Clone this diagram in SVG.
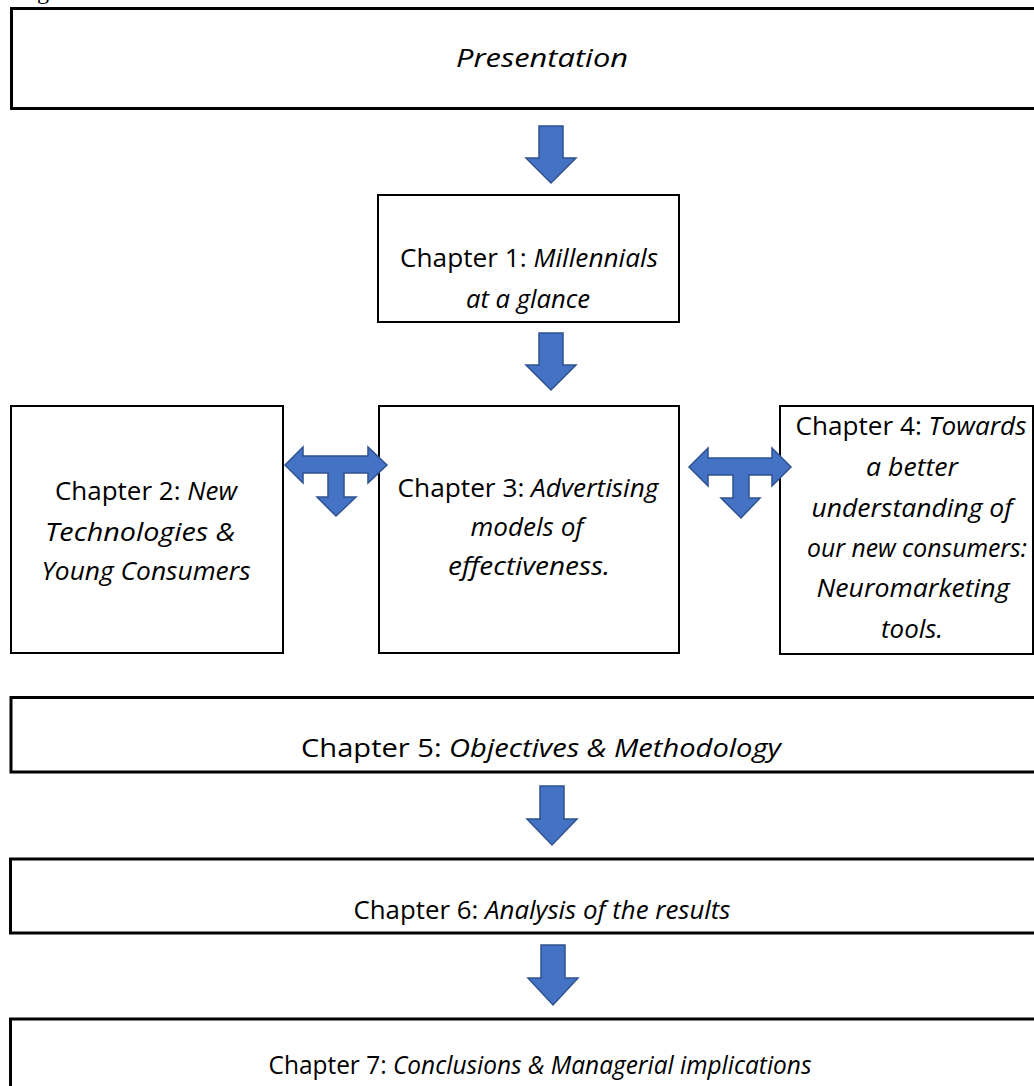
<svg xmlns="http://www.w3.org/2000/svg" width="1034" height="1086" viewBox="0 0 1034 1086">
  <style>
    .wide { fill: #ffffff; stroke: #000000; stroke-width: 3; }
    .box { fill: #ffffff; stroke: #000000; stroke-width: 2; }
    .lbl { font-family: "Open Sans", "Liberation Sans", sans-serif; font-size: 26px; fill: #000000; text-anchor: middle; }
    .it { font-style: italic; }
    .arrow { fill: #4472C4; stroke: #2F528F; stroke-width: 1.5; stroke-linejoin: miter; }
  </style>
  <rect width="1034" height="1086" fill="#ffffff"/>

  <!-- caption fragment above the chart -->
  <text x="37" y="-1" font-family="Liberation Serif, serif" font-size="24">g</text>

  <!-- Presentation -->
  <g id="presentation">
    <rect class="wide" x="11.5" y="8.5" width="1040" height="100"/>
    <text class="lbl it" x="542" y="67" textLength="172" lengthAdjust="spacingAndGlyphs">Presentation</text>
  </g>

  <!-- Chapter 1 -->
  <g id="chapter1">
    <rect class="box" x="378" y="195" width="301" height="127"/>
    <text class="lbl" x="529" y="267" textLength="258" lengthAdjust="spacingAndGlyphs">Chapter 1: <tspan class="it">Millennials</tspan></text>
    <text class="lbl it" x="528" y="308" textLength="124" lengthAdjust="spacingAndGlyphs">at a glance</text>
  </g>

  <!-- Chapter 2 -->
  <g id="chapter2">
    <rect class="box" x="11" y="406" width="272" height="247"/>
    <text class="lbl" x="146" y="500" textLength="182" lengthAdjust="spacingAndGlyphs">Chapter 2: <tspan class="it">New</tspan></text>
    <text class="lbl it" x="140" y="541" textLength="190" lengthAdjust="spacingAndGlyphs">Technologies &amp;</text>
    <text class="lbl it" x="146" y="580" textLength="209" lengthAdjust="spacingAndGlyphs">Young Consumers</text>
  </g>

  <!-- Chapter 3 -->
  <g id="chapter3">
    <rect class="box" x="379" y="406" width="300" height="247"/>
    <text class="lbl" x="528" y="497" textLength="261" lengthAdjust="spacingAndGlyphs">Chapter 3: <tspan class="it">Advertising</tspan></text>
    <text class="lbl it" x="527" y="536" textLength="113" lengthAdjust="spacingAndGlyphs">models of</text>
    <text class="lbl it" x="529" y="575" textLength="162" lengthAdjust="spacingAndGlyphs">effectiveness.</text>
  </g>

  <!-- Chapter 4 -->
  <g id="chapter4">
    <rect class="box" x="780" y="406" width="253" height="248"/>
    <text class="lbl" x="911" y="435" textLength="231" lengthAdjust="spacingAndGlyphs">Chapter 4: <tspan class="it">Towards</tspan></text>
    <text class="lbl it" x="912" y="476" textLength="92" lengthAdjust="spacingAndGlyphs">a better</text>
    <text class="lbl it" x="912" y="517" textLength="201" lengthAdjust="spacingAndGlyphs">understanding of</text>
    <text class="lbl it" x="917" y="557" textLength="220" lengthAdjust="spacingAndGlyphs">our new consumers:</text>
    <text class="lbl it" x="913" y="597" textLength="193" lengthAdjust="spacingAndGlyphs">Neuromarketing</text>
    <text class="lbl it" x="912" y="638" textLength="62" lengthAdjust="spacingAndGlyphs">tools.</text>
  </g>

  <!-- Chapter 5 -->
  <g id="chapter5">
    <rect class="wide" x="11" y="697.5" width="1040" height="74.5"/>
    <text class="lbl" x="541" y="757" textLength="480" lengthAdjust="spacingAndGlyphs">Chapter 5: <tspan class="it">Objectives &amp; Methodology</tspan></text>
  </g>

  <!-- Chapter 6 -->
  <g id="chapter6">
    <rect class="wide" x="10.5" y="859" width="1040" height="74"/>
    <text class="lbl" x="542" y="919" textLength="377" lengthAdjust="spacingAndGlyphs">Chapter 6: <tspan class="it">Analysis of the results</tspan></text>
  </g>

  <!-- Chapter 7 -->
  <g id="chapter7">
    <rect class="wide" x="10.5" y="1019" width="1040" height="100"/>
    <text class="lbl" x="540" y="1074" textLength="543" lengthAdjust="spacingAndGlyphs">Chapter 7: <tspan class="it">Conclusions &amp; Managerial implications</tspan></text>
  </g>

  <!-- block arrows between chapters -->
  <g id="connectors">
    <polygon class="arrow" points="539,126 563,126 563,158 576,158 551,183 526,158 539,158"/>
    <polygon class="arrow" points="539,333 563,333 563,365 576,365 551,390 526,365 539,365"/>
    <polygon class="arrow" points="540,786 564,786 564,819 577,819 552,845 527,819 540,819"/>
    <polygon class="arrow" points="541,945 565,945 565,978 578,978 553,1005 528,978 541,978"/>
    <polygon class="arrow" points="285,465 303,447 303,456 368,456 368,447 387,465 368,483 368,473 344,473 344,497 356,497 336,516 317,497 328,497 328,473 303,473 303,483"/>
    <polygon class="arrow" points="689,467 708,448 708,458 772,458 772,448 791,467 772,486 772,475 749,475 749,498 760,498 741,518 721,498 733,498 733,475 708,475 708,486"/>
  </g>
</svg>
